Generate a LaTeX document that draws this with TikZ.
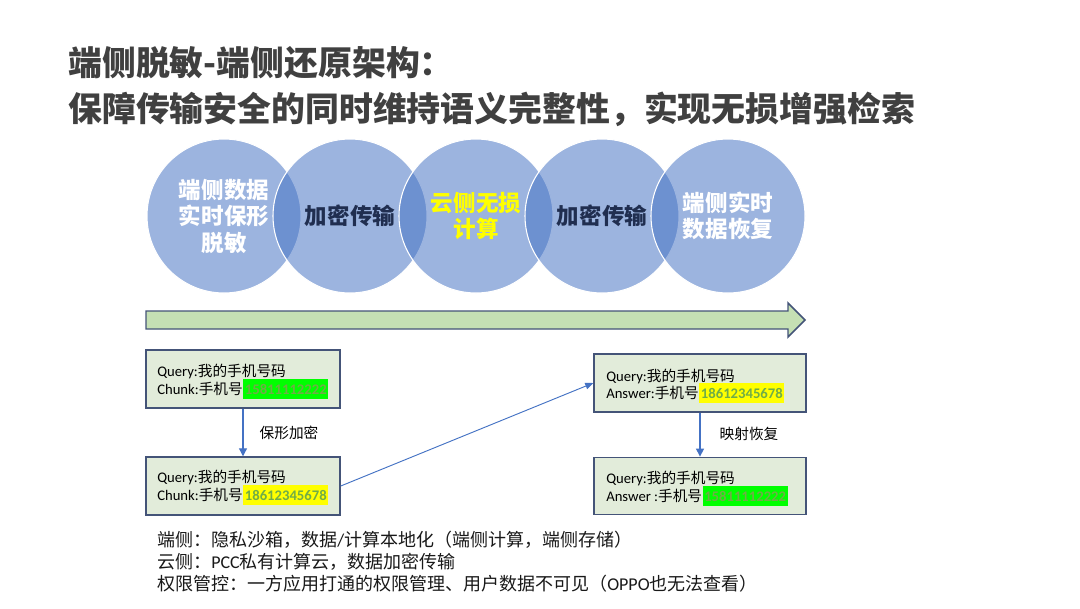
\documentclass[tikz,border=0pt]{standalone}
\usepackage{fontspec}
\setmainfont{Noto Sans CJK SC}
\newfontfamily\lat{Carlito}
\usetikzlibrary{arrows.meta}
\definecolor{cblue}{RGB}{68,114,196}
\definecolor{navytxt}{RGB}{32,46,80}
\definecolor{titlegray}{RGB}{64,64,64}
\definecolor{boxfill}{RGB}{226,236,218}
\definecolor{boxline}{RGB}{68,84,120}
\definecolor{arrowfill}{RGB}{197,224,180}
\definecolor{numgreen}{RGB}{112,173,71}
\definecolor{hlgreen}{RGB}{0,255,0}
\definecolor{hlyellow}{RGB}{255,255,0}
\tikzset{
  circ/.style={circle, minimum size=115.5pt, inner sep=0pt, fill=cblue, fill opacity=0.53, draw=white, line width=0.8pt},
  ctext/.style={align=center, font=\fontsize{16.9}{19.9}\selectfont\bfseries, inner sep=0pt},
  box/.style={draw=boxline, fill=boxfill, line width=1.1pt, inner sep=0pt},
  btext/.style={anchor=base west, inner sep=0pt, font=\fontsize{11}{13}\selectfont},
  num/.style={anchor=base west, inner xsep=1.2pt, inner ysep=0pt, text height=11pt, text depth=3.5pt, font=\lat\bfseries\fontsize{11}{13}\selectfont, text=numgreen},
  conn/.style={draw=cblue, line width=0.9pt, -{Triangle[length=6pt,width=6pt]}},
  lbl/.style={inner sep=0pt, font=\fontsize{11}{13}\selectfont},
  foot/.style={anchor=base west, inner sep=0pt, font=\fontsize{13.5}{16}\selectfont, text=black!90},
}
\begin{document}
\begin{tikzpicture}[x=0.75pt,y=-0.75pt]
\useasboundingbox[fill=white] (0,0) rectangle (1080,608);

% title
\node[anchor=base west, inner sep=0pt, font=\fontsize{25.4}{30}\selectfont\bfseries, text=titlegray] (t1) at (68,75) {端侧脱敏-端侧还原架构：};
\node[anchor=base west, inner sep=0pt, font=\fontsize{25.4}{30}\selectfont\bfseries, text=titlegray] (t2) at (68,121) {保障传输安全的同时维持语义完整性，实现无损增强检索};

% circles
\node[circ] (c1) at (224,216) {};
\node[circ] (c2) at (350,216) {};
\node[circ] (c3) at (476,216) {};
\node[circ] (c4) at (602,216) {};
\node[circ] (c5) at (728,216) {};
\node[ctext, text=white] (l1) at (c1) {端侧数据\\实时保形\\脱敏};
\node[ctext, text=navytxt] (l2) at (c2) {加密传输};
\node[ctext, text=hlyellow] (l3) at (c3) {云侧无损\\计算};
\node[ctext, text=navytxt] (l4) at (c4) {加密传输};
\node[ctext, text=white] (l5) at (c5) {端侧实时\\数据恢复};

% big arrow
\draw[draw=boxline, fill=arrowfill, line width=1.1pt, line join=miter]
  (146,311) -- (788,311) -- (788,303) -- (805,320) -- (788,337) -- (788,329) -- (146,329) -- cycle;

% boxes
\node[box, minimum width=145.5pt, minimum height=43.5pt] (b1) at (243,379) {};
\node[box, minimum width=145.5pt, minimum height=43.5pt] (b2) at (243,486) {};
\node[box, minimum width=159pt, minimum height=43.5pt] (b3) at (700,383) {};
\node[box, minimum width=159pt, minimum height=43pt] (b4) at (700,486) {};

% box 1 text
\node[btext] (b1q) at (157,376) {{\lat Query:}我的手机号码};
\node[btext] (b1c) at (157,394) {{\lat Chunk:}手机号};
\node[num, fill=hlgreen] (b1n) at (b1c.base east) {15811112222};
% box 2 text
\node[btext] (b2q) at (157,482) {{\lat Query:}我的手机号码};
\node[btext] (b2c) at (157,500) {{\lat Chunk:}手机号};
\node[num, fill=hlyellow] (b2n) at (b2c.base east) {18612345678};
% box 3 text
\node[btext] (b3q) at (606,381) {{\lat Query:}我的手机号码};
\node[btext] (b3c) at (606,398) {{\lat Answer:}手机号};
\node[num, fill=hlyellow] (b3n) at (b3c.base east) {18612345678};
% box 4 text
\node[btext] (b4q) at (606,483) {{\lat Query:}我的手机号码};
\node[btext] (b4c) at (606,501) {{\lat Answer :}手机号};
\node[num, fill=hlgreen] (b4n) at (b4c.base east) {15811112222};

% connectors
\draw[conn] (b1.south) -- (b2.north);
\draw[conn] (b3.south) -- (b4.north);
\draw[draw=cblue, line width=0.7pt, -{Triangle[length=6pt,width=5pt]}] (b2.east) -- (b3.west);
\node[lbl] (k1) at (289,433) {保形加密};
\node[lbl] (k2) at (749,434) {映射恢复};

% footnotes
\node[foot] (f1) at (157,546) {端侧：隐私沙箱，数据{\lat /}计算本地化（端侧计算，端侧存储）};
\node[foot] (f2) at (157,568) {云侧：{\lat PCC}私有计算云，数据加密传输};
\node[foot] (f3) at (157,590) {权限管控：一方应用打通的权限管理、用户数据不可见（{\lat OPPO}也无法查看）};
\end{tikzpicture}
\end{document}
